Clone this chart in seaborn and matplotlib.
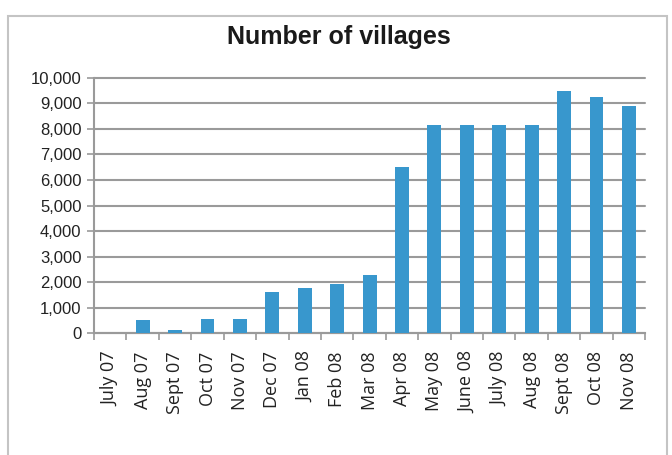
import seaborn as sns
import matplotlib.pyplot as plt
from matplotlib.patches import Rectangle
from matplotlib.ticker import FuncFormatter, MultipleLocator
import numpy as np

sns.set_style("white")
plt.rcParams['font.family'] = ['Liberation Sans', 'DejaVu Sans']

months = ["July 07", "Aug 07", "Sept 07", "Oct 07", "Nov 07", "Dec 07",
          "Jan 08", "Feb 08", "Mar 08", "Apr 08", "May 08", "June 08",
          "July 08", "Aug 08", "Sept 08", "Oct 08", "Nov 08"]
villages = [0, 530, 140, 540, 540, 1630, 1780, 1940, 2290, 6520,
            8160, 8160, 8160, 8160, 9480, 9250, 8900]

bar_color = "#3897cd"
grid_color = "#9a9a9a"

fig = plt.figure(figsize=(6.72, 4.55), dpi=100)
ax = fig.add_axes([0.140, 0.2675, 0.820, 0.5615])

sns.barplot(x=months, y=villages, color=bar_color, width=0.43,
            saturation=1, linewidth=0, ax=ax, zorder=3)

ax.set_ylim(0, 10000)
ax.set_xlim(-0.5, len(months) - 0.5)
ax.yaxis.set_major_locator(MultipleLocator(1000))
ax.yaxis.set_major_formatter(FuncFormatter(lambda v, p: f"{int(v):,}"))
ax.grid(axis="y", color=grid_color, linewidth=1.5, zorder=0)
ax.set_axisbelow(True)
for gl in ax.get_ygridlines():
    gl.set_clip_on(False)

for s in ["top", "right"]:
    ax.spines[s].set_visible(False)
for s in ["left", "bottom"]:
    ax.spines[s].set_color(grid_color)
    ax.spines[s].set_linewidth(1.5)

# ticks between categories on x, labels centred under bars
ax.set_xticks(np.arange(-0.5, len(months), 1.0), minor=True)
ax.tick_params(axis="x", which="minor", length=5, width=1.2,
               color=grid_color, direction="out", bottom=True)
ax.tick_params(axis="x", which="major", length=0, pad=13)
ax.tick_params(axis="y", length=5, width=1.2, color=grid_color,
               direction="out", left=True, pad=4)
ax.set_xticks(range(len(months)))
ax.set_xticklabels(months, rotation=90, fontsize=13,
                   family=["Open Sans", "DejaVu Sans"], color="#222222")
for lab in ax.get_yticklabels():
    lab.set_fontsize(12)
    lab.set_color("#222222")

fig.text(0.505, 0.918, "Number of villages", ha="center", va="center",
         fontsize=18, fontweight="bold", color="#1a1a1a")

# outer chart frame
fig.patches.append(Rectangle((8 / 672, -0.1), 659 / 672, 1.082 - 8 / 455,
                             transform=fig.transFigure, fill=False,
                             edgecolor="#c4c4c4", linewidth=1.5))

fig.savefig("out.png", dpi=100)
